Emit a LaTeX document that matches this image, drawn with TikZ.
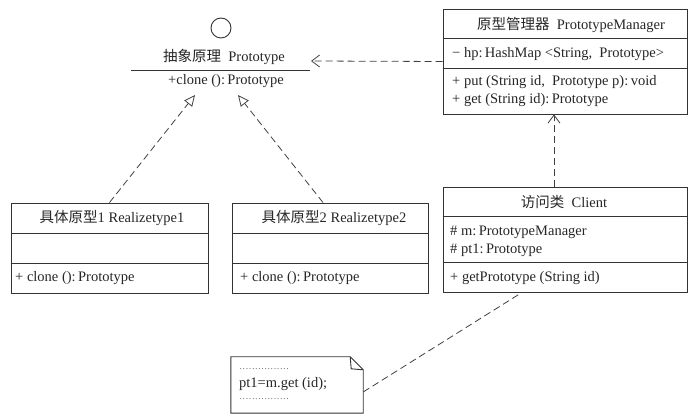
\documentclass[tikz,border=0pt]{standalone}
\usepackage{fontspec}
\setmainfont{Liberation Serif}
\newfontfamily\cjk{Noto Sans CJK SC}
\usetikzlibrary{arrows.meta}

\newcommand{\dotrow}{\hbox to 50pt{\xleaders\hbox to 3pt{\hss.\hss}\hfill}}

\tikzset{
  umlbox/.style={draw=black!80, line width=0.9pt, inner sep=0pt},
  umltext/.style={inner sep=0pt, font=\fontsize{14.5}{17}\selectfont, text=black!85},
  divider/.style={draw=black!80, line width=0.9pt},
  realize/.style={draw=black!75, line width=0.8pt, dash pattern=on 7pt off 4pt,
    -{Triangle[open, length=11pt, width=10pt]}},
  depend/.style={draw=black!75, line width=0.8pt, dash pattern=on 7pt off 4pt,
    -{Straight Barb[length=8pt, width=12pt]}},
  notelink/.style={draw=black!75, line width=0.8pt, dash pattern=on 7pt off 4pt}
}

\begin{document}
\begin{tikzpicture}[x=1pt,y=-1pt]
    \useasboundingbox (0,0) rectangle (697,419);

    % interface
    \node[umlbox, circle, minimum size=20pt] (lolly) at (221,28) {};
    \node[umltext, anchor=base] (protoname) at (224,62) {{\cjk 抽象原理}\ \ Prototype};
    \draw[divider] (131,70) -- (310,70);
    \node[umltext, anchor=base] (protoop) at (226,85) {+clone ():\,Prototype};
    \coordinate (protoR) at (311,61);
    \coordinate (tipA) at (195,95);
    \coordinate (tipB) at (238,95);

    % manager
    \node[umlbox, minimum width=244pt, minimum height=105pt] (manager) at (565,61.5) {};
    \draw[divider] (manager.west |- 0,38) -- (manager.east |- 0,38);
    \draw[divider] (manager.west |- 0,68) -- (manager.east |- 0,68);
    \node[umltext, anchor=base] (mgrname) at (571,30) {{\cjk 原型管理器}\ \ PrototypeManager};
    \node[umltext, anchor=base west] (mgrhp) at (452,58) {\textminus\ hp:\,HashMap <String,\ \ Prototype>};
    \node[umltext, anchor=base west] (mgrput) at (452,86) {+ put (String id,\ \ Prototype p):\,void};
    \node[umltext, anchor=base west] (mgrget) at (452,104) {+ get (String id):\,Prototype};

    % concrete prototypes
    \node[umlbox, minimum width=197pt, minimum height=90pt] (realA) at (109.5,248) {};
    \draw[divider] (realA.west |- 0,233) -- (realA.east |- 0,233);
    \draw[divider] (realA.west |- 0,263) -- (realA.east |- 0,263);
    \node[umltext, anchor=base] (realAname) at (112,223) {{\cjk 具体原型}1 Realizetype1};
    \node[umltext, anchor=base west] (realAop) at (15,282) {+ clone ():\,Prototype};

    \node[umlbox, minimum width=196pt, minimum height=90pt] (realB) at (330,248) {};
    \draw[divider] (realB.west |- 0,233) -- (realB.east |- 0,233);
    \draw[divider] (realB.west |- 0,263) -- (realB.east |- 0,263);
    \node[umltext, anchor=base] (realBname) at (334,223) {{\cjk 具体原型}2 Realizetype2};
    \node[umltext, anchor=base west] (realBop) at (240,282) {+ clone ():\,Prototype};

    % client
    \node[umlbox, minimum width=244pt, minimum height=105pt] (client) at (565,239.5) {};
    \draw[divider] (client.west |- 0,216) -- (client.east |- 0,216);
    \draw[divider] (client.west |- 0,262) -- (client.east |- 0,262);
    \node[umltext, anchor=base] (clientname) at (564,208) {{\cjk 访问类}\ \ Client};
    \node[umltext, anchor=base west] (clientm) at (450,236) {\# m:\,PrototypeManager};
    \node[umltext, anchor=base west] (clientpt) at (450,254) {\# pt1:\,Prototype};
    \node[umltext, anchor=base west] (clientop) at (450,282) {+ getPrototype (String id)};

    % note
    \node[minimum width=132pt, minimum height=56pt, inner sep=0pt] (note) at (297,385) {};
    \draw[umlbox] (note.north west) -- ([xshift=-13pt]note.north east)
        -- ([yshift=-13pt]note.north east) -- (note.south east)
        -- (note.south west) -- cycle;
    \draw[umlbox] ([xshift=-13pt]note.north east) -- ([xshift=-12pt,yshift=-12pt]note.north east)
        -- ([yshift=-13pt]note.north east);
    \node[umltext, anchor=base west, font=\fontsize{8}{8}\selectfont] (notedotA) at (239,370) {\dotrow};
    \node[umltext, anchor=base west] (notecode) at (239,388) {pt1=m.get (id);};
    \node[umltext, anchor=base west, font=\fontsize{8}{8}\selectfont] (notedotB) at (239,400) {\dotrow};

    % connectors
    \draw[depend] (manager.west) -- (protoR);
    \draw[realize] (realA.north) -- (tipA);
    \draw[realize] ([xshift=-7pt]realB.north) -- (tipB);
    \draw[depend] ([xshift=-11pt]client.north) -- ([xshift=-11pt]manager.south);
    \draw[notelink] ([yshift=-7pt]note.east) -- ([xshift=-43pt]client.south);
\end{tikzpicture}
\end{document}
